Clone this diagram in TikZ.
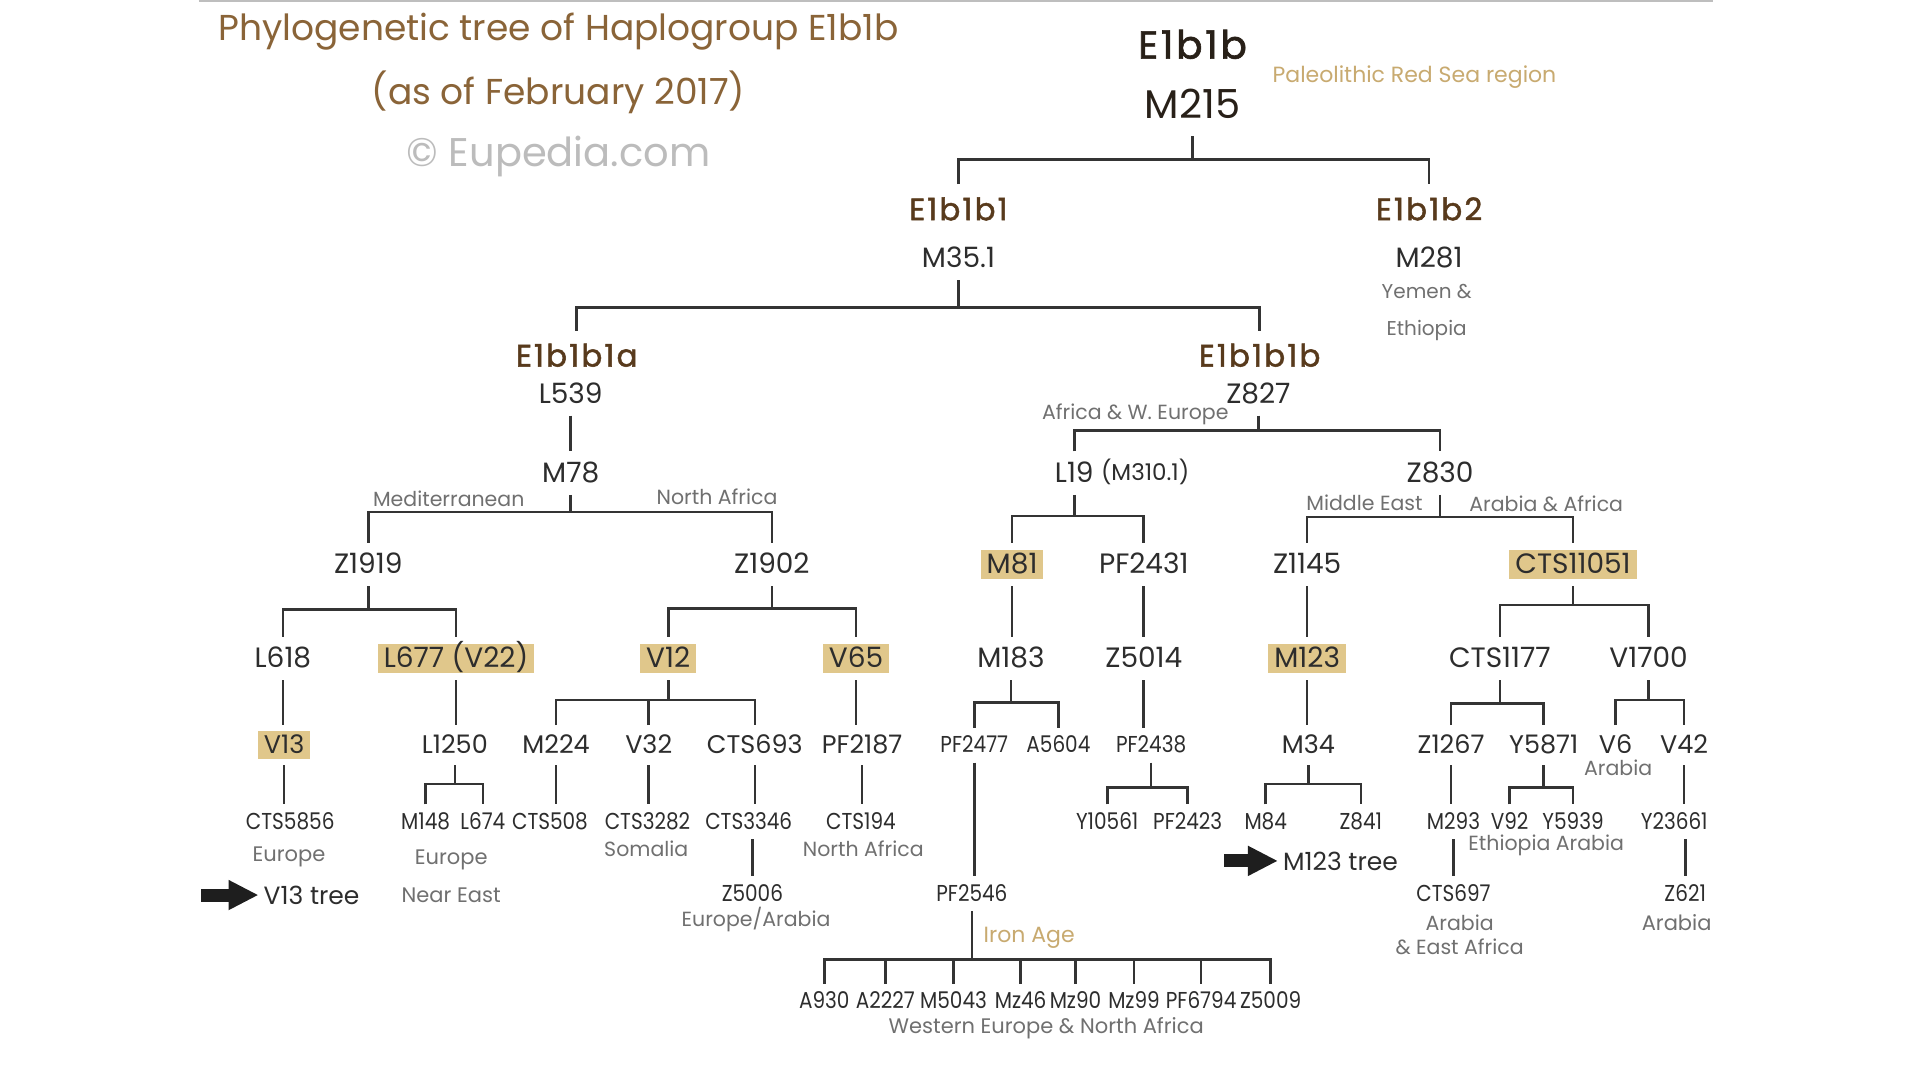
\documentclass[tikz,border=0pt]{standalone}
\usepackage{fontspec}
\setmainfont{Poppins}
\newfontfamily\leaffont{Poppins}[FakeStretch=0.87]
\newfontfamily\cladefont{Poppins}[FakeBold=1.6,LetterSpace=7]
\usetikzlibrary{arrows.meta}

\definecolor{ink}{RGB}{45,45,45}
\definecolor{rootc}{RGB}{40,32,24}
\definecolor{cladec}{RGB}{88,58,28}
\definecolor{titlec}{RGB}{138,100,56}
\definecolor{tanc}{RGB}{200,170,112}
\definecolor{noteg}{RGB}{112,112,112}
\definecolor{copyc}{RGB}{188,188,188}
\definecolor{hlfill}{RGB}{224,199,139}
\definecolor{linec}{RGB}{52,52,52}
\definecolor{rulec}{RGB}{190,190,190}
\definecolor{arrowc}{RGB}{30,30,30}

\tikzset{
  titletext/.style={font=\fontsize{36}{40}\selectfont, text=titlec, inner sep=0pt},
  copytext/.style={font=\fontsize{40}{44}\selectfont, text=copyc, inner sep=0pt},
  roottext/.style={font=\cladefont\fontsize{39}{42}\selectfont, text=rootc, inner sep=4pt, text height=27pt, text depth=0pt, outer ysep=14pt},
  clade/.style={font=\cladefont\fontsize{31}{34}\selectfont, text=cladec, inner sep=4pt, text height=21pt, text depth=0pt, outer ysep=11pt},
  snp/.style={font=\fontsize{28}{31}\selectfont, text=ink, inner xsep=6pt, inner ysep=4.5pt, text height=19.5pt, text depth=1pt, outer ysep=7pt},
  mid/.style={font=\fontsize{25.5}{28}\selectfont, text=ink, inner xsep=6pt, inner ysep=4.5pt, text height=18pt, text depth=1pt, outer ysep=6pt},
  leaf/.style={font=\leaffont\fontsize{23}{26}\selectfont, text=ink, inner xsep=4pt, inner ysep=4pt, text height=16pt, text depth=1pt, outer ysep=5pt},
  hl/.style={fill=hlfill},
  note/.style={font=\fontsize{20.5}{23}\selectfont, text=noteg, inner sep=1pt, align=center},
  region/.style={font=\fontsize{21}{24}\selectfont, text=noteg, inner sep=1pt, align=center},
  tannote/.style={font=\fontsize{22}{24}\selectfont, text=tanc, inner sep=1pt},
  treelink/.style={font=\fontsize{25}{27}\selectfont, text=ink, inner sep=5pt},
  branch/.style={draw=linec, line width=2.6pt},
  bigarrow/.style={draw=arrowc, line width=13pt, -{Triangle[length=30pt,width=28pt]}}
}

\begin{document}
\begin{tikzpicture}[x=1.2194pt, y=-1.2194pt]
\fill[white] (0,0) rectangle (1568,886);
\useasboundingbox (0,0) rectangle (1568,886);
\draw[rulec, line width=2pt] (163,1) -- (1405,1);

% title
\node[titletext] (title) at (458,26) {Phylogenetic tree of Haplogroup E1b1b};
\node[titletext] (asof) at (458,76) {(as of February 2017)};
\node[copytext] (copy) at (458,128) {© Eupedia.com};

% root
\node[roottext] (e1b1b) at (978,37) {E1b1b};
\node[roottext, font=\fontsize{40}{42}\selectfont] (m215) at (978,86) {M215};
\node[tannote] (paleo) at (1160,63) {Paleolithic Red Sea region};

\node[clade] (e1b1b1) at (786,172) {E1b1b1};
\node[snp] (m351) at (786,212) {M35.1};
\node[clade] (e1b1b2) at (1172,172) {E1b1b2};
\node[snp] (m281) at (1172,212) {M281};
\node[region, font=\fontsize{20}{37}\selectfont] (yemen) at (1170,256) {Yemen \&\\Ethiopia};

\draw[branch] (m215.south) -- (m215.south |- 0,131);
\draw[branch] (e1b1b1.north) |- (m215.south |- 0,131) -| (e1b1b2.north);

\node[clade] (e1b1b1a) at (473,292) {E1b1b1a};
\node[clade] (e1b1b1b) at (1033,292) {E1b1b1b};
\draw[branch] (m351.south) -- (m351.south |- 0,252);
\draw[branch] (e1b1b1a.north) |- (m351.south |- 0,252) -| (e1b1b1b.north);

% E1b1b1a branch
\node[snp] (l539) at (468,323) {L539};
\node[snp] (m78) at (468,388) {M78};
\draw[branch] (l539.south) -- (m78.north);
\node[note] (med) at (368,409) {Mediterranean};
\node[note] (nafr) at (588,407) {North Africa};

\node[snp] (z1919) at (302,463) {Z1919};
\node[snp] (z1902) at (633,463) {Z1902};
\draw[branch] (m78.south) -- (m78.south |- 0,420);
\draw[branch] (z1919.north) |- (m78.south |- 0,420) -| (z1902.north);

\node[snp] (l618) at (232,540) {L618};
\node[snp, hl] (l677) at (374,540) {L677 (V22)};
\draw[branch] (z1919.south) -- (z1919.south |- 0,500);
\draw[branch] (l618.north) |- (z1919.south |- 0,500) -| (l677.north);

\node[snp, hl] (v12) at (548,540) {V12};
\node[snp, hl] (v65) at (702,540) {V65};
\draw[branch] (z1902.south) -- (z1902.south |- 0,499);
\draw[branch] (v12.north) |- (z1902.south |- 0,499) -| (v65.north);

\node[mid, hl] (v13) at (233,611) {V13};
\draw[branch] (l618.south) -- (l618.south |- v13.north);
\node[mid] (l1250) at (373,611) {L1250};
\draw[branch] (l677.south) -- (l677.south |- l1250.north);

\node[mid] (m224) at (456,611) {M224};
\node[mid] (v32) at (532,611) {V32};
\node[mid] (cts693) at (619,611) {CTS693};
\draw[branch] (v12.south) -- (v12.south |- 0,574);
\draw[branch] (m224.north) |- (v12.south |- 0,574) -| (cts693.north);
\draw[branch] (v32.north) -- (v32.north |- 0,574);

\node[mid] (pf2187) at (707,611) {PF2187};
\draw[branch] (v65.south) -- (v65.south |- pf2187.north);

\node[leaf] (cts5856) at (238,674) {CTS5856};
\draw[branch] (v13.south) -- (v13.south |- cts5856.north);
\node[region] (europe) at (237,703) {Europe};
\coordinate (v13tail) at (165,734);
\node[treelink, anchor=west] (v13tree) at (212,734) {V13 tree};
\draw[bigarrow] (v13tail) -- (v13tree.west);

\node[leaf] (m148) at (349,674) {M148};
\node[leaf] (l674) at (396,674) {L674};
\draw[branch] (l1250.south) -- (l1250.south |- 0,643);
\draw[branch] (m148.north) |- (l1250.south |- 0,643) -| (l674.north);
\node[region, font=\fontsize{21}{38}\selectfont] (eune) at (370,719) {Europe\\Near East};

\node[leaf] (cts508) at (451,674) {CTS508};
\draw[branch] (m224.south) -- (m224.south |- cts508.north);
\node[leaf] (cts3282) at (531,674) {CTS3282};
\draw[branch] (v32.south) -- (v32.south |- cts3282.north);
\node[note] (somalia) at (530,696) {Somalia};
\node[leaf] (cts3346) at (614,674) {CTS3346};
\draw[branch] (cts693.south) -- (cts693.south |- cts3346.north);
\node[leaf] (z5006) at (617,733) {Z5006};
\draw[branch] (z5006.north |- cts3346.south) -- (z5006.north);
\node[note] (euarab) at (620,754) {Europe/Arabia};
\node[leaf] (cts194) at (706,674) {CTS194};
\draw[branch] (pf2187.south) -- (pf2187.south |- cts194.north);
\node[note] (nafr2) at (708,696) {North Africa};

% E1b1b1b branch
\node[snp] (z827) at (1032,323) {Z827};
\node[note] (afweu) at (931,340) {Africa \& W. Europe};
\node[snp] (l19) at (881,388) {L19};
\node[leaf, font=\fontsize{23}{26}\selectfont, anchor=west, inner xsep=1pt] (m3101) at (l19.east) {(M310.1)};
\node[snp] (z830) at (1181,388) {Z830};
\draw[branch] (z827.south) -- (z827.south |- 0,353);
\draw[branch] (l19.north) |- (z827.south |- 0,353) -| (z830.north);
\node[note] (mideast) at (1119,412) {Middle East};
\node[note] (arabafr) at (1268,413) {Arabia \& Africa};

\node[snp, hl] (m81) at (830,463) {M81};
\node[snp] (pf2431) at (938,463) {PF2431};
\draw[branch] (l19.south) -- (l19.south |- 0,423);
\draw[branch] (m81.north) |- (l19.south |- 0,423) -| (pf2431.north);

\node[snp] (z1145) at (1072,463) {Z1145};
\node[snp, hl] (cts11051) at (1290,463) {CTS11051};
\draw[branch] (z830.south) -- (z830.south |- 0,424);
\draw[branch] (z1145.north) |- (z830.south |- 0,424) -| (cts11051.north);

\node[snp] (m183) at (829,540) {M183};
\draw[branch] (m81.south) -- (m81.south |- m183.north);
\node[snp] (z5014) at (938,540) {Z5014};
\draw[branch] (pf2431.south) -- (pf2431.south |- z5014.north);
\node[snp, hl] (m123) at (1072,540) {M123};
\draw[branch] (z1145.south) -- (z1145.south |- m123.north);

\node[snp] (cts1177) at (1230,540) {CTS1177};
\node[snp] (v1700) at (1352,540) {V1700};
\draw[branch] (cts11051.south) -- (cts11051.south |- 0,496);
\draw[branch] (cts1177.north) |- (cts11051.south |- 0,496) -| (v1700.north);

\node[leaf] (pf2477) at (799,611) {PF2477};
\node[leaf] (a5604) at (868,611) {A5604};
\draw[branch] (m183.south) -- (m183.south |- 0,576);
\draw[branch] (pf2477.north) |- (m183.south |- 0,576) -| (a5604.north);

\node[leaf] (pf2438) at (944,611) {PF2438};
\draw[branch] (z5014.south) -- (z5014.south |- pf2438.north);
\node[mid] (m34) at (1073,611) {M34};
\draw[branch] (m123.south) -- (m123.south |- m34.north);

\node[mid] (z1267) at (1190,611) {Z1267};
\node[mid] (y5871) at (1266,611) {Y5871};
\draw[branch] (cts1177.south) -- (cts1177.south |- 0,577);
\draw[branch] (z1267.north) |- (cts1177.south |- 0,577) -| (y5871.north);

\node[mid] (v6) at (1325,611) {V6};
\node[mid] (v42) at (1381,611) {V42};
\draw[branch] (v1700.south) -- (v1700.south |- 0,574);
\draw[branch] (v6.north) |- (v1700.south |- 0,574) -| (v42.north);
\node[note] (arabia1) at (1327,630) {Arabia};

\node[leaf] (pf2546) at (797,733) {PF2546};
\draw[branch] (pf2477.south) -- (pf2477.south |- pf2546.north);

\node[leaf] (y10561) at (908,674) {Y10561};
\node[leaf] (pf2423) at (974,674) {PF2423};
\draw[branch] (pf2438.south) -- (pf2438.south |- 0,646);
\draw[branch] (y10561.north) |- (pf2438.south |- 0,646) -| (pf2423.north);

\node[leaf] (m84) at (1038,674) {M84};
\node[leaf] (z841) at (1116,674) {Z841};
\draw[branch] (m34.south) -- (m34.south |- 0,643);
\draw[branch] (m84.north) |- (m34.south |- 0,643) -| (z841.north);
\coordinate (m123tail) at (1004,706);
\node[treelink, anchor=west] (m123tree) at (1048,706) {M123 tree};
\draw[bigarrow] (m123tail) -- (m123tree.west);

\node[leaf] (m293) at (1192,674) {M293};
\draw[branch] (z1267.south) -- (z1267.south |- m293.north);
\node[leaf] (v92) at (1238,674) {V92};
\node[leaf] (y5939) at (1290,674) {Y5939};
\draw[branch] (y5871.south) -- (y5871.south |- 0,646);
\draw[branch] (v92.north) |- (y5871.south |- 0,646) -| (y5939.north);
\node[note] (ethara) at (1268,693) {Ethiopia Arabia};
\node[leaf] (y23661) at (1373,674) {Y23661};
\draw[branch] (v42.south) -- (v42.south |- y23661.north);

\node[leaf] (cts697) at (1192,733) {CTS697};
\draw[branch] (m293.south) -- (m293.south |- cts697.north);
\node[region, font=\fontsize{20.5}{24}\selectfont] (araeaf) at (1197,767) {Arabia\\\& East Africa};
\node[leaf] (z621) at (1382,733) {Z621};
\draw[branch] (z621.north |- y23661.south) -- (z621.north);
\node[region] (arabia3) at (1375,757) {Arabia};

% PF2546 subclades
\node[tannote] (ironage) at (844,769) {Iron Age};
\node[leaf] (a930) at (676,821) {A930};
\node[leaf] (a2227) at (726,821) {A2227};
\node[leaf] (m5043) at (782,821) {M5043};
\node[leaf] (mz46) at (837,821) {Mz46};
\node[leaf] (mz90) at (882,821) {Mz90};
\node[leaf] (mz99) at (930,821) {Mz99};
\node[leaf] (pf6794) at (985,821) {PF6794};
\node[leaf] (z5009) at (1042,821) {Z5009};
\draw[branch] (pf2546.south) -- (pf2546.south |- 0,787);
\draw[branch] (a930.north) |- (pf2546.south |- 0,787) -| (z5009.north);
\draw[branch] (a2227.north) -- (a2227.north |- 0,787);
\draw[branch] (m5043.north) -- (m5043.north |- 0,787);
\draw[branch] (mz46.north) -- (mz46.north |- 0,787);
\draw[branch] (mz90.north) -- (mz90.north |- 0,787);
\draw[branch] (mz99.north) -- (mz99.north |- 0,787);
\draw[branch] (pf6794.north) -- (pf6794.north |- 0,787);
\node[region] (westeu) at (858,843) {Western Europe \& North Africa};
\end{tikzpicture}
\end{document}
